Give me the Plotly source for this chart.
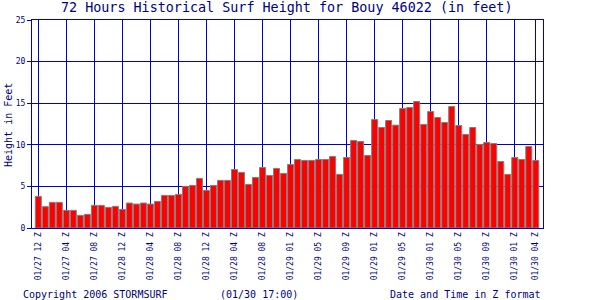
import plotly.graph_objects as go

# ---- data ----
surf_ft = [3.8, 2.56, 3.08, 3.08, 2.12, 2.12, 1.52, 1.64, 2.72, 2.72,
           2.48, 2.6, 2.24, 3.0, 2.88, 3.0, 2.88, 3.2, 3.92, 3.92,
           4.04, 5.0, 5.12, 5.96, 4.52, 5.12, 5.72, 5.72, 7.04, 6.68,
           5.24, 6.08, 7.28, 6.32, 7.16, 6.56, 7.64, 8.24, 8.12, 8.12,
           8.24, 8.24, 8.6, 6.44, 8.48, 10.52, 10.4, 8.72, 13.04, 12.08,
           12.92, 12.36, 14.36, 14.48, 15.2, 12.44, 14.0, 13.28, 12.68, 14.6,
           12.32, 11.24, 12.08, 10.04, 10.28, 10.16, 8.0, 6.44, 8.48, 8.24,
           9.8, 8.12]
hour_index = list(range(len(surf_ft)))
tick_hours = [0, 4, 8, 12, 16, 20, 24, 28, 32, 36, 40, 44, 48, 52, 56, 60, 64, 68, 71]
tick_labels = ["01/27 12 Z", "01/27 04 Z", "01/27 08 Z", "01/28 12 Z", "01/28 04 Z",
               "01/28 08 Z", "01/28 12 Z", "01/28 04 Z", "01/28 08 Z", "01/29 01 Z",
               "01/29 05 Z", "01/29 09 Z", "01/29 01 Z", "01/29 05 Z", "01/30 01 Z",
               "01/30 05 Z", "01/30 09 Z", "01/30 01 Z", "01/30 04 Z"]
y_ticks = [0, 5, 10, 15, 20, 25]

# ---- style ----
W, H = 600, 300
L, R, T, B = 32, 57, 20, 72
MONO = "DejaVu Sans Mono, Liberation Mono, monospace"
BLUE = "#0000cc"
NAVY = "#000080"

def px(x):
    return (x - L) / (W - L - R)

def py(y):
    return (H - B - y) / (H - T - B)

fig = go.Figure(go.Bar(
    x=hour_index, y=surf_ft, width=0.857,
    marker=dict(color="#ff0000", line=dict(color="#808080", width=1)),
    hoverinfo="skip",
))

fig.update_layout(
    width=W, height=H,
    margin=dict(l=L, r=R, t=T, b=B, pad=0),
    paper_bgcolor="white", plot_bgcolor="white",
    showlegend=False,
    font=dict(family=MONO, color=NAVY),
    xaxis=dict(
        range=[-0.9, 72.03], tickmode="array", tickvals=tick_hours, ticktext=tick_labels,
        tickangle=-90, tickfont=dict(family=MONO, size=8, color=NAVY),
        showgrid=True, gridcolor=BLUE, gridwidth=1, zeroline=False,
        showline=True, linecolor=BLUE, linewidth=1, mirror=True, ticks="",
    ),
    yaxis=dict(
        range=[0, 25], tickmode="array", tickvals=y_ticks,
        tickfont=dict(family=MONO, size=8, color=NAVY),
        showgrid=True, gridcolor=BLUE, gridwidth=1, zeroline=False,
        showline=True, linecolor=BLUE, linewidth=1, mirror=True,
        ticks="outside", ticklen=4, tickcolor=BLUE,
    ),
)

ann = [
    dict(text="72 Hours Historical Surf Height for Bouy 46022 (in feet)", x=px(286.5), y=py(8),
         xanchor="center", yanchor="middle", font=dict(size=13.4, family=MONO, color=NAVY)),
    dict(text="Height in Feet", x=px(8), y=py(125), textangle=-90,
         xanchor="center", yanchor="middle", font=dict(size=10, family=MONO, color=NAVY)),
    dict(text="Copyright 2006 STORMSURF", x=px(21), y=py(294),
         xanchor="left", yanchor="middle", font=dict(size=10, family=MONO, color=NAVY)),
    dict(text="(01/30 17:00)", x=px(258.5), y=py(294),
         xanchor="center", yanchor="middle", font=dict(size=10, family=MONO, color=NAVY)),
    dict(text="Date and Time in Z format", x=px(543), y=py(294),
         xanchor="right", yanchor="middle", font=dict(size=10, family=MONO, color=NAVY)),
]
for a in ann:
    a.update(xref="paper", yref="paper", showarrow=False)
fig.update_layout(annotations=ann)

fig.write_html("out.html")
